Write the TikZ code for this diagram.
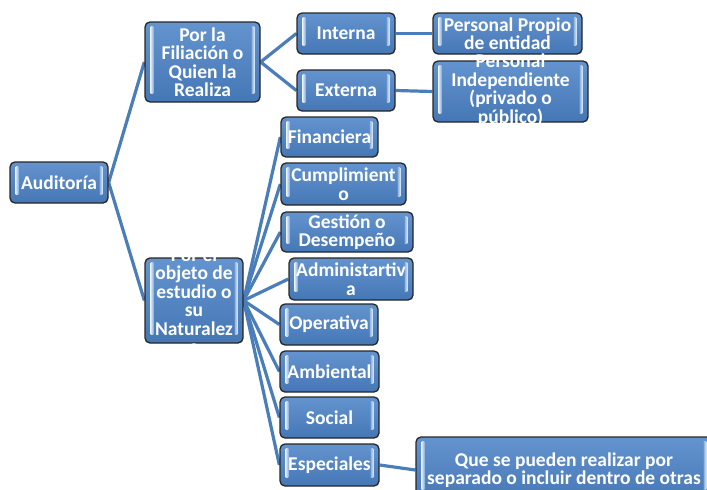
\documentclass[tikz,border=0pt]{standalone}
\usepackage{fontspec}
\setmainfont{Carlito}
\usetikzlibrary{backgrounds}
\definecolor{boxtop}{HTML}{6494CF}
\definecolor{boxbot}{HTML}{4577B5}
\definecolor{linkblue}{HTML}{4A7EBB}
\definecolor{striplight}{HTML}{E2EEFA}
\definecolor{stripdark}{HTML}{8DB1DE}
\tikzset{
  box/.style={rectangle, rounded corners=5pt, draw=black!85, line width=1.3pt,
    top color=boxtop, bottom color=boxbot, inner sep=0pt},
  lbl/.style={text=white, font=\fontsize{19.5}{18.5}\selectfont\bfseries,
    align=center, inner sep=0pt},
  link/.style={draw=linkblue, line width=3.2pt},
}
\newcommand{\boxstrips}[1]{%
  \fill[left color=striplight, right color=stripdark]
    ([xshift=6pt,yshift=-5pt]#1.north west) rectangle ([xshift=9pt,yshift=9pt]#1.south west);
  \fill[left color=stripdark, right color=striplight]
    ([xshift=-9pt,yshift=-5pt]#1.north east) rectangle ([xshift=-6pt,yshift=9pt]#1.south east);
}
\begin{document}
\begin{tikzpicture}[x=1pt,y=-1pt]
\useasboundingbox (0,0) rectangle (707,490);
\clip (0,0) rectangle (707,490);
% boxes
\node[box, minimum width=98pt,  minimum height=41pt] (aud) at (59,182.5) {};
\node[box, minimum width=115pt, minimum height=80pt] (fil) at (202.5,62) {};
\node[box, minimum width=98pt,  minimum height=85pt] (obj) at (194,300.5) {};
\node[box, minimum width=98pt,  minimum height=41pt] (int) at (346,33.5) {};
\node[box, minimum width=98pt,  minimum height=41pt] (ext) at (346,90.5) {};
\node[box, minimum width=149pt, minimum height=41pt] (pp)  at (507.5,33.5) {};
\node[box, minimum width=155pt, minimum height=61pt] (pi)  at (510.5,91.5) {};
\node[box, minimum width=97pt,  minimum height=40pt] (fin) at (329.5,137) {};
\node[box, minimum width=125pt, minimum height=42pt] (cum) at (343.5,184) {};
\node[box, minimum width=132pt, minimum height=40pt] (ges) at (347,232) {};
\node[box, minimum width=124pt, minimum height=42pt] (adm) at (351,279) {};
\node[box, minimum width=98pt,  minimum height=41pt] (ope) at (329,324.5) {};
\node[box, minimum width=99pt,  minimum height=41pt] (amb) at (329.5,371.5) {};
\node[box, minimum width=99pt,  minimum height=41pt] (soc) at (329.5,417.5) {};
\node[box, minimum width=99pt,  minimum height=42pt] (esp) at (329.5,465) {};
\node[box, minimum width=296pt, minimum height=66pt] (que) at (564,470) {};
% inner highlight strips
\foreach \n in {aud,fil,obj,int,ext,pp,pi,fin,cum,ges,adm,ope,amb,soc,esp,que}{\boxstrips{\n}}
% connectors
\begin{pgfonlayer}{background}
\draw[link] (aud.east) -- (fil.west);
\draw[link] (aud.east) -- (obj.west);
\draw[link] (fil.east) -- (int.west);
\draw[link] (fil.east) -- (ext.west);
\draw[link] (int.east) -- (pp.west);
\draw[link] (ext.east) -- (pi.west);
\foreach \c in {fin,cum,ges,adm,ope,amb,soc,esp}{\draw[link] (obj.east) -- (\c.west);}
\draw[link] (esp.east) -- (que.west);
\end{pgfonlayer}
% labels
\node[lbl] (aud-t) at (aud) {Auditoría};
\node[lbl] (fil-t) at (fil) {Por la\\Filiación o\\Quien la\\Realiza};
\node[lbl] (obj-t) at (obj) {Por el\\objeto de\\estudio o\\su\\Naturalez\\a};
\node[lbl] (int-t) at (int) {Interna};
\node[lbl] (ext-t) at (ext) {Externa};
\node[lbl] (pp-t)  at (pp)  {Personal Propio\\de entidad};
\node[lbl] (pi-t)  at ([yshift=1.5pt]pi.center) {Personal\\Independiente\\(privado o\\público)};
\node[lbl] (fin-t) at (fin) {Financiera};
\node[lbl] (cum-t) at (cum) {Cumplimient\\o};
\node[lbl] (ges-t) at (ges) {Gestión o\\Desempeño};
\node[lbl] (adm-t) at (adm) {Administartiv\\a};
\node[lbl] (ope-t) at (ope) {Operativa};
\node[lbl] (amb-t) at (amb) {Ambiental};
\node[lbl] (soc-t) at (soc) {Social};
\node[lbl] (esp-t) at (esp) {Especiales};
\node[lbl, font=\fontsize{19.5}{16.5}\selectfont\bfseries] (que-t) at (que) {Que se pueden realizar por\\separado o incluir dentro de otras};
\end{tikzpicture}
\end{document}
